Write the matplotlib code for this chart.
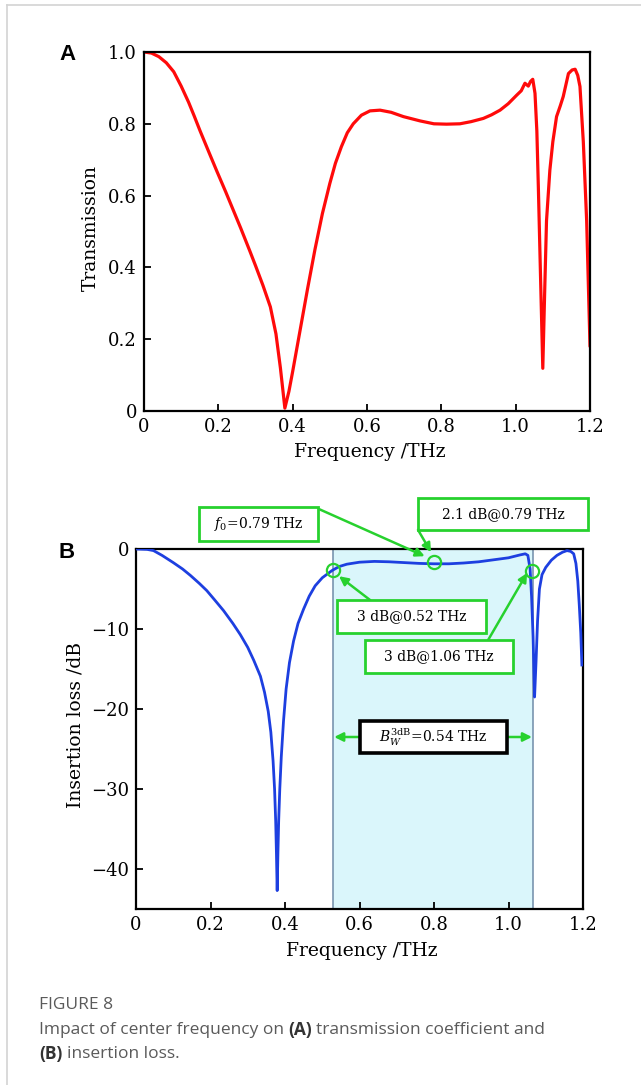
import matplotlib
matplotlib.use("Agg")
import matplotlib.pyplot as plt
from matplotlib.patches import Rectangle
from matplotlib.lines import Line2D

# ---------------------------------------- DATA ----------------------------------------

# (A) transmission vs frequency
freq_a = [0.0, 0.02, 0.04, 0.06, 0.08, 0.10, 0.12, 0.135, 0.151, 0.175, 0.196, 0.22, 0.24,
          0.26, 0.285, 0.30, 0.32, 0.34, 0.355, 0.367, 0.379, 0.39, 0.40, 0.42, 0.44, 0.46,
          0.48, 0.50, 0.515, 0.531, 0.547, 0.563, 0.585, 0.608, 0.635, 0.665,
          0.698, 0.743, 0.78, 0.814, 0.85, 0.88, 0.913, 0.935, 0.958, 0.98, 1.003, 1.015,
          1.025, 1.034, 1.040, 1.046, 1.052, 1.057, 1.061, 1.067, 1.073, 1.078, 1.083,
          1.092, 1.10, 1.11, 1.12, 1.128, 1.142, 1.152, 1.16, 1.167, 1.173, 1.182, 1.191, 1.2]
trans_a = [1.0, 0.997, 0.987, 0.97, 0.945, 0.905, 0.86, 0.822, 0.78, 0.72, 0.668, 0.61, 0.56,
           0.51, 0.445, 0.405, 0.35, 0.29, 0.215, 0.12, 0.008, 0.055, 0.11, 0.225, 0.34,
           0.45, 0.55, 0.634, 0.69, 0.736, 0.775, 0.80, 0.824, 0.836, 0.838, 0.832,
           0.82, 0.808, 0.80, 0.799, 0.80, 0.806, 0.815, 0.825, 0.838, 0.856, 0.88, 0.892,
           0.913, 0.905, 0.918, 0.924, 0.885, 0.78, 0.625, 0.37, 0.119, 0.33, 0.53,
           0.671, 0.75, 0.82, 0.85, 0.876, 0.94, 0.95, 0.952, 0.935, 0.904, 0.75, 0.53, 0.18]

# (B) insertion loss vs frequency
freq_b = [0.0, 0.03, 0.047, 0.07, 0.10, 0.125, 0.146, 0.17, 0.19, 0.21, 0.235, 0.26, 0.28,
          0.30, 0.316, 0.334, 0.345, 0.355, 0.362, 0.368, 0.372, 0.375, 0.377, 0.379,
          0.381, 0.383, 0.386, 0.390, 0.396, 0.403, 0.412, 0.423, 0.435, 0.45, 0.465,
          0.481, 0.50, 0.526, 0.545, 0.566, 0.60, 0.64, 0.68, 0.72, 0.76, 0.80, 0.84,
          0.88, 0.92, 0.96, 1.00, 1.03, 1.045, 1.052, 1.058, 1.062, 1.066, 1.070, 1.074,
          1.078, 1.083, 1.09, 1.10, 1.115, 1.13, 1.145, 1.157, 1.167, 1.175, 1.181, 1.186,
          1.19, 1.194, 1.197]
loss_b = [0.0, -0.05, -0.2, -0.8, -1.7, -2.5, -3.3, -4.3, -5.2, -6.3, -7.7, -9.3, -10.7,
          -12.3, -13.9, -15.9, -17.9, -20.3, -22.9, -26.5, -30, -34, -38, -42.7,
          -38, -34, -30, -26, -21.5, -17.5, -14.2, -11.5, -9.3, -7.5, -5.9,
          -4.6, -3.6, -2.7, -2.2, -1.9, -1.65, -1.55, -1.6, -1.7, -1.8, -1.85, -1.85,
          -1.75, -1.6, -1.35, -1.1, -0.75, -0.6, -0.8, -2.5, -6, -11, -18.5, -14,
          -9, -5, -3.2, -2.3, -1.4, -0.8, -0.4, -0.2, -0.3, -0.6, -1.8, -4.0,
          -7, -10.5, -14.5]

band_edges = [0.53, 1.065]                 # 3 dB passband
marked_f = [0.53, 0.80, 1.063]             # circled points
marked_db = [-2.6, -1.6, -2.75]

xticks = [0, 0.2, 0.4, 0.6, 0.8, 1.0, 1.2]
xtick_labels = ['0', '0.2', '0.4', '0.6', '0.8', '1.0', '1.2']
yticks_a = [0, 0.2, 0.4, 0.6, 0.8, 1.0]
ytick_labels_a = ['0', '0.2', '0.4', '0.6', '0.8', '1.0']
yticks_b = [0, -10, -20, -30, -40]
ytick_labels_b = ['0', '\u221210', '\u221220', '\u221230', '\u221240']

# ---------------------------------------- STYLE ----------------------------------------

W, H = 641, 1085
GREEN = '#27d12e'
plt.rcParams['font.family'] = 'DejaVu Serif'
plt.rcParams['mathtext.fontset'] = 'dejavuserif'

fig = plt.figure(figsize=(W / 100, H / 100), dpi=100)


def fx(px):
    return px / W


def fy(py):
    return 1 - py / H


def style_axes(ax):
    for s in ax.spines.values():
        s.set_linewidth(1.6)
    ax.tick_params(direction='in', length=5, width=1.3, labelsize=13, pad=5,
                   top=False, right=False)


# ---------------------------------------- PANEL A ----------------------------------------

ax1 = fig.add_axes([fx(144), fy(411), fx(590) - fx(144), fy(52) - fy(411)])
ax1.plot(freq_a, trans_a, color='#ff0a0a', lw=2.3, solid_capstyle='round',
         solid_joinstyle='round')
ax1.set_xlim(0, 1.2)
ax1.set_ylim(0, 1.0)
ax1.set_xticks(xticks, xtick_labels)
ax1.set_yticks(yticks_a, ytick_labels_a)
style_axes(ax1)

fig.text(fx(91), fy(228), 'Transmission', rotation=90, ha='center', va='center', fontsize=13.5)
fig.text(fx(370), fy(452), 'Frequency /THz', ha='center', va='center', fontsize=13.5)
fig.text(fx(68), fy(54), 'A', ha='center', va='center', fontsize=16, fontweight='bold',
         family='Liberation Sans')

# ---------------------------------------- PANEL B ----------------------------------------

ax2 = fig.add_axes([fx(136), fy(909), fx(583) - fx(136), fy(549) - fy(909)])
ax2.axvspan(band_edges[0], band_edges[1], fc='#daf6fb', ec='none', zorder=0)
for e in band_edges:
    ax2.axvline(e, color='#6f8ca8', lw=1.1, zorder=1)
ax2.plot(freq_b, loss_b, color='#1d3fe0', lw=2.0, zorder=3, solid_joinstyle='round')
ax2.plot(marked_f, marked_db, 'o', ms=9.5, mfc='none', mec=GREEN, mew=1.6, zorder=4)
ax2.set_xlim(0, 1.2)
ax2.set_ylim(-45, 0)
ax2.set_xticks(xticks, xtick_labels)
ax2.set_yticks(yticks_b, ytick_labels_b)
style_axes(ax2)

fig.text(fx(75), fy(725), 'Insertion loss /dB', rotation=90, ha='center', va='center',
         fontsize=13.5)
fig.text(fx(362), fy(951), 'Frequency /THz', ha='center', va='center', fontsize=13.5)
fig.text(fx(67), fy(553), 'B', ha='center', va='center', fontsize=16, fontweight='bold',
         family='Liberation Sans')

# annotation boxes: (x0, x1, y0, y1) in data units, label, edge colour
boxes = [
    ((0.169, 0.488, 1.0, 5.25), r'$f_0$=0.79 THz', GREEN),
    ((0.757, 1.214, 2.4, 6.4), '2.1 dB@0.79 THz', GREEN),
    ((0.540, 0.940, -10.5, -6.4), '3 dB@0.52 THz', GREEN),
    ((0.615, 1.012, -15.5, -11.4), '3 dB@1.06 THz', GREEN),
    ((0.601, 0.996, -25.5, -21.5), r'$B_W^{3\mathrm{dB}}$=0.54 THz', 'black'),
]
for (x0, x1, y0, y1), label, ec in boxes:
    ax2.add_patch(Rectangle((x0, y0), x1 - x0, y1 - y0, fc='white', ec=ec,
                            lw=2.6 if ec == 'black' else 2.0, clip_on=False, zorder=6))
    ax2.text((x0 + x1) / 2, (y0 + y1) / 2, label, ha='center', va='center',
             fontsize=10, zorder=7, clip_on=False)

# arrows: (start, tip)
arrows = [
    ((0.486, 5.1), (0.775, -0.9)),
    ((0.757, 2.4), (0.792, -0.4)),
    ((0.629, -6.4), (0.545, -3.4)),
    ((0.945, -11.4), (1.050, -3.0)),
    ((0.601, -23.5), (0.532, -23.5)),
    ((0.996, -23.5), (1.063, -23.5)),
]
for start, tip in arrows:
    ax2.annotate('', xy=tip, xytext=start, annotation_clip=False, zorder=5,
                 arrowprops=dict(arrowstyle='-|>', color=GREEN, lw=1.8,
                                 mutation_scale=13, shrinkA=0, shrinkB=0))

# ---------------------------------------- FRAME & CAPTION ----------------------------------------

fig.add_artist(Line2D([fx(7), fx(7)], [fy(5), 0], color='#d3d3d3', lw=1.2))
fig.add_artist(Line2D([fx(7), 1], [fy(5), fy(5)], color='#d3d3d3', lw=1.2))

CAP = 'Open Sans'
fig.text(fx(39), fy(1005), 'FIGURE 8', ha='left', va='center', fontsize=12.5,
         color='#5a5a5a', family=CAP)

renderer = fig.canvas.get_renderer()


def caption_line(x_px, y_px, parts):
    x = x_px
    for text, weight, color in parts:
        t = fig.text(fx(x), fy(y_px), text, ha='left', va='center', fontsize=12.5,
                     fontweight=weight, color=color, family=CAP)
        x += t.get_window_extent(renderer=renderer).width + 4.2


caption_line(39, 1030, [('Impact of center frequency on', 'normal', '#5a5a5a'),
                        ('(A)', 'bold', '#333333'),
                        ('transmission coefficient and', 'normal', '#5a5a5a')])
caption_line(39, 1054, [('(B)', 'bold', '#333333'),
                        ('insertion loss.', 'normal', '#5a5a5a')])

fig.savefig('out.png', dpi=100)
